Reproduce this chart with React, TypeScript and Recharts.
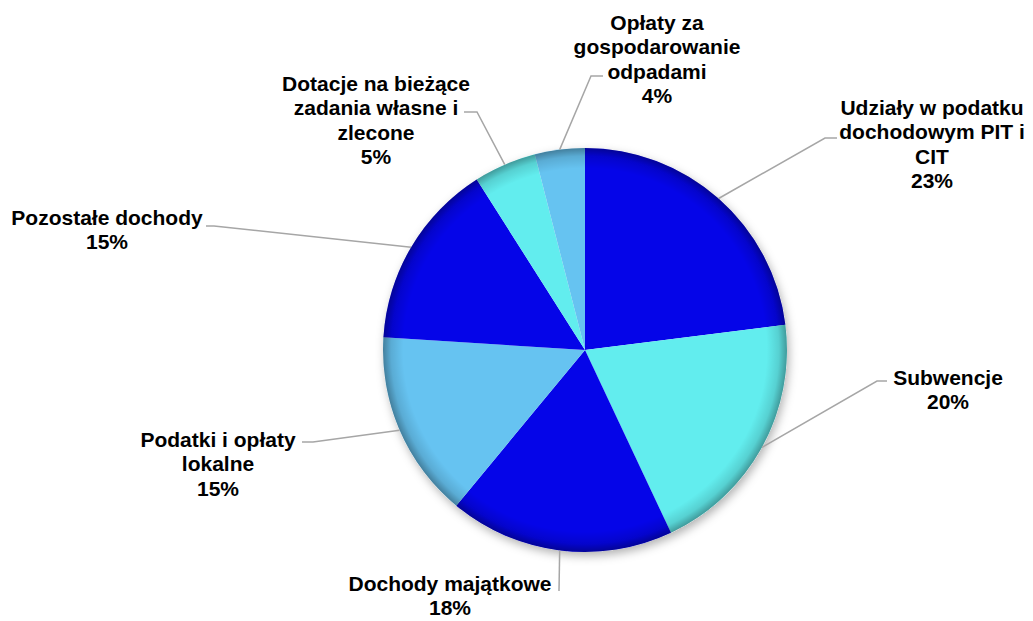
import React from 'react';
import { PieChart, Pie, Cell } from 'recharts';

const categories = [
  'Udziały w podatku dochodowym PIT i CIT',
  'Subwencje',
  'Dochody majątkowe',
  'Podatki i opłaty lokalne',
  'Pozostałe dochody',
  'Dotacje na bieżące zadania własne i zlecone',
  'Opłaty za gospodarowanie odpadami',
];

const labelLines = [
  ['Udziały w podatku', 'dochodowym PIT i', 'CIT'],
  ['Subwencje'],
  ['Dochody majątkowe'],
  ['Podatki i opłaty', 'lokalne'],
  ['Pozostałe dochody'],
  ['Dotacje na bieżące', 'zadania własne i', 'zlecone'],
  ['Opłaty za', 'gospodarowanie', 'odpadami'],
];

const values = [23, 20, 18, 15, 15, 5, 4];

const colors = ['#0505E8', '#62EDEE', '#0505E8', '#66C3F1', '#0505E8', '#62EDEE', '#66C3F1'];

// label placement relative to pie centre: text (first line centre), elbow, end of leader
const labelLayout = [
  { tx: 347, ty: -243, ex: 240, ey: -212, lx: 252, ly: -212 },
  { tx: 363, ty: 27, ex: 292, ey: 31, lx: 302, ly: 31 },
  { tx: -135, ty: 233, ex: -26, ey: 241, lx: -26, ly: 241 },
  { tx: -367, ty: 89, ex: -272, ey: 92, lx: -283, ly: 92 },
  { tx: -478, ty: -133, ex: -371, ey: -124, lx: -379, ly: -124 },
  { tx: -209, ty: -267, ex: -108, ey: -238, lx: -121, ly: -238 },
  { tx: 72, ty: -328, ex: 6, ey: -274, lx: 18, ly: -274 },
];

const data = categories.map((name, i) => ({ name, value: values[i] }));
const total = values.reduce((a, b) => a + b, 0);

const RAD = Math.PI / 180;
const LINE_H = 24.5;

const renderLabel = (props: any) => {
  const { cx, cy, midAngle, outerRadius, index } = props;
  const lay = labelLayout[index];
  const sx = cx + outerRadius * Math.cos(-midAngle * RAD);
  const sy = cy + outerRadius * Math.sin(-midAngle * RAD);
  const lines = [...labelLines[index], `${Math.round((values[index] / total) * 100)}%`];
  return (
    <g key={`lbl-${index}`}>
      <polyline
        points={`${sx},${sy} ${cx + lay.ex},${cy + lay.ey} ${cx + lay.lx},${cy + lay.ly}`}
        fill="none"
        stroke="#A6A6A6"
        strokeWidth={1.5}
      />
      <text
        x={cx + lay.tx}
        y={cy + lay.ty}
        textAnchor="middle"
        fontFamily="'Liberation Sans', Arial, sans-serif"
        fontWeight="bold"
        fontSize={21}
        fill="#000"
      >
        {lines.map((t, j) => (
          <tspan key={j} x={cx + lay.tx} y={cy + lay.ty + j * LINE_H} dy="0.36em">
            {t}
          </tspan>
        ))}
      </text>
    </g>
  );
};

const CX = 585;
const CY = 350;
const R = 202;

export default function App() {
  return (
    <div style={{ position: 'absolute', left: 0, top: 0, background: '#fff' }}>
      <PieChart width={1033} height={621} margin={{ top: 0, right: 0, bottom: 0, left: 0 }}>
        <defs>
          <radialGradient id="rim" cx="50%" cy="50%" r="50%">
            <stop offset="0.9" stopColor="#000" stopOpacity={0} />
            <stop offset="0.96" stopColor="#000" stopOpacity={0.12} />
            <stop offset="1" stopColor="#000" stopOpacity={0.35} />
          </radialGradient>
          <filter id="shadow" x="-20%" y="-20%" width="140%" height="140%">
            <feDropShadow dx="2" dy="4" stdDeviation="5" floodColor="#000" floodOpacity="0.3" />
          </filter>
        </defs>
        <Pie
          data={[{ name: 'shadow', value: 1 }]}
          dataKey="value"
          cx={CX}
          cy={CY}
          outerRadius={R}
          startAngle={90}
          endAngle={-270}
          fill="#ffffff"
          stroke="none"
          style={{ filter: 'url(#shadow)' }}
          isAnimationActive={false}
          label={false}
          labelLine={false}
        />
        <Pie
          data={data}
          dataKey="value"
          nameKey="name"
          cx={CX}
          cy={CY}
          outerRadius={R}
          startAngle={90}
          endAngle={-270}
          stroke="none"
          isAnimationActive={false}
          label={renderLabel}
          labelLine={false}
        >
          {data.map((d, i) => (
            <Cell key={d.name} fill={colors[i]} stroke="none" />
          ))}
        </Pie>
        <Pie
          data={[{ name: 'rim', value: 1 }]}
          dataKey="value"
          cx={CX}
          cy={CY}
          outerRadius={R}
          startAngle={90}
          endAngle={-270}
          fill="url(#rim)"
          stroke="none"
          isAnimationActive={false}
          label={false}
          labelLine={false}
        />
      </PieChart>
    </div>
  );
}
